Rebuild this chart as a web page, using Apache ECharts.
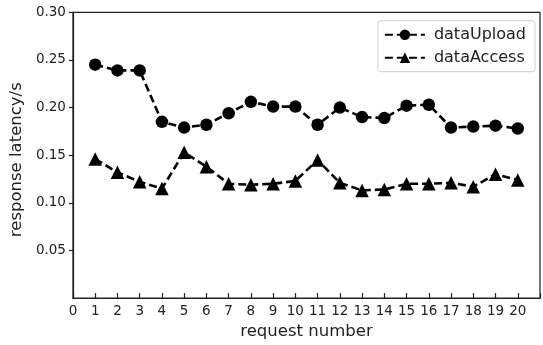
<!DOCTYPE html>
<html>
<head>
<meta charset="utf-8">
<script src="https://cdn.jsdelivr.net/npm/echarts@6/dist/echarts.min.js"></script>
<style>
  html, body { margin: 0; padding: 0; background: #fff; }
  #chart { width: 543px; height: 345px; }
</style>
</head>
<body>
<div id="chart"></div>
<script>
// request number 1..20
var requestNo = [1, 2, 3, 4, 5, 6, 7, 8, 9, 10, 11, 12, 13, 14, 15, 16, 17, 18, 19, 20];
var dataUpload = [0.245, 0.239, 0.239, 0.185, 0.179, 0.182, 0.194, 0.206, 0.201, 0.201,
                  0.182, 0.200, 0.190, 0.189, 0.202, 0.203, 0.179, 0.180, 0.181, 0.178];
var dataAccess = [0.146, 0.132, 0.122, 0.115, 0.153, 0.138, 0.120, 0.119, 0.120, 0.123,
                  0.145, 0.121, 0.113, 0.114, 0.120, 0.120, 0.121, 0.117, 0.130, 0.124];
var yTicks = [0.05, 0.10, 0.15, 0.20, 0.25, 0.30];

function pairs(xs, ys) {
  var out = [];
  for (var i = 0; i < xs.length; i++) out.push([xs[i], ys[i]]);
  return out;
}

var font = 'DejaVu Sans';
var ink = '#222';
var chart = echarts.init(document.getElementById('chart'));

var option = {
  animation: false,
  backgroundColor: '#fff',
  grid: {
    left: 72.5, right: 0.5, top: 12.3, bottom: 41.7,
    show: true, borderColor: ink, borderWidth: 1.2
  },
  legend: {
    orient: 'vertical',
    right: 8, top: 20.7,
    padding: [5, 9, 5, 6],
    backgroundColor: '#fff',
    borderColor: '#d0d0d0', borderWidth: 1, borderRadius: 3,
    itemWidth: 40, itemHeight: 13, itemGap: 5,
    textStyle: { fontFamily: font, fontSize: 16, color: ink, lineHeight: 18, padding: [0, 0, 0, 4] },
    data: ['dataUpload', 'dataAccess']
  },
  xAxis: {
    type: 'value', min: 0, max: 21, interval: 1,
    name: 'request number', nameLocation: 'middle', nameGap: 24,
    nameTextStyle: { fontFamily: font, fontSize: 16.5, color: ink },
    axisLine: { lineStyle: { color: ink, width: 1.2 } },
    axisTick: { inside: true, length: 5, lineStyle: { color: ink, width: 1.2 } },
    axisLabel: {
      fontFamily: font, fontSize: 13.5, color: ink, margin: 6,
      formatter: function (v) { return v > 20 ? '' : String(v); }
    },
    splitLine: { show: false }
  },
  yAxis: {
    type: 'value', min: 0, max: 0.30, interval: 0.05,
    name: 'response latency/s', nameLocation: 'middle', nameGap: 43,
    nameTextStyle: { fontFamily: font, fontSize: 16.5, color: ink, padding: [0, 0, 0, -9] },
    axisLine: { lineStyle: { color: ink, width: 1.2 } },
    axisTick: { inside: false, length: 4, lineStyle: { color: ink, width: 1.2 }, customValues: yTicks },
    axisLabel: {
      fontFamily: font, fontSize: 13.5, color: ink, margin: 7,
      customValues: yTicks,
      formatter: function (v) { return v < 0.001 ? '' : v.toFixed(2); }
    },
    splitLine: { show: false }
  },
  series: [
    {
      name: 'dataUpload', type: 'line',
      data: pairs(requestNo, dataUpload),
      symbol: 'circle', symbolSize: 12.5,
      itemStyle: { color: '#000' },
      lineStyle: { color: '#000', width: 2.6, type: [8, 4] }
    },
    {
      name: 'dataAccess', type: 'line',
      data: pairs(requestNo, dataAccess),
      symbol: 'triangle', symbolSize: 13.5,
      itemStyle: { color: '#000' },
      lineStyle: { color: '#000', width: 2.6, type: [8, 4] }
    }
  ]
};
chart.setOption(option);
</script>
</body>
</html>
